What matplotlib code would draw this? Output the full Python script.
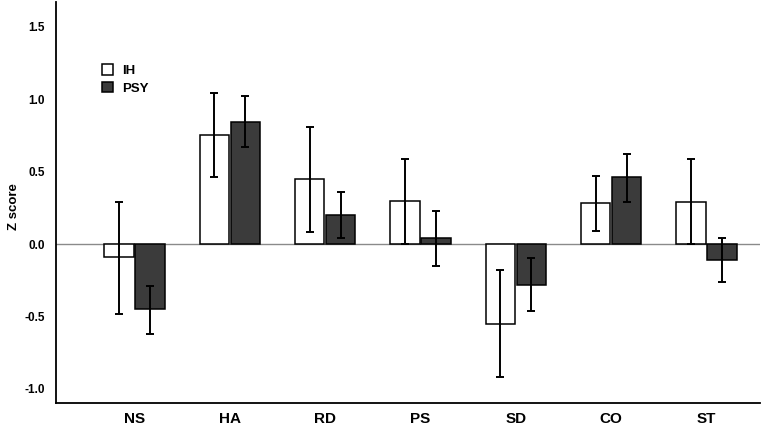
import matplotlib
matplotlib.use("Agg")
import matplotlib.pyplot as plt
import numpy as np

categories = ["NS", "HA", "RD", "PS", "SD", "CO", "ST"]
ih_mean = [-0.09, 0.75, 0.45, 0.30, -0.55, 0.28, 0.29]
ih_upper = [0.29, 1.04, 0.81, 0.59, -0.18, 0.47, 0.59]
ih_lower = [-0.48, 0.46, 0.08, 0.00, -0.92, 0.09, 0.00]
psy_mean = [-0.45, 0.84, 0.20, 0.04, -0.28, 0.46, -0.11]
psy_upper = [-0.29, 1.02, 0.36, 0.23, -0.10, 0.62, 0.04]
psy_lower = [-0.62, 0.67, 0.04, -0.15, -0.46, 0.29, -0.26]
yticks = [-1.0, -0.5, 0.0, 0.5, 1.0, 1.5]

plt.rcParams['font.family'] = ['Liberation Sans', 'DejaVu Sans']

fig = plt.figure(figsize=(7.63, 4.29), dpi=100)
ax = fig.add_axes([0.0734, 0.0599, 0.9226, 0.935])

x = np.arange(len(categories))
w = 0.307
off = 0.163

ax.axhline(0, color="#8a8a8a", lw=1.0, zorder=1)

ih_m = np.array(ih_mean)
ps_m = np.array(psy_mean)
ih_err = [ih_m - np.array(ih_lower), np.array(ih_upper) - ih_m]
ps_err = [ps_m - np.array(psy_lower), np.array(psy_upper) - ps_m]

ax.bar(x - off, ih_m, w, color="white", edgecolor="black", lw=1.1, zorder=2, label="IH")
ax.bar(x + off, ps_m, w, color="#3b3b3b", edgecolor="black", lw=1.1, zorder=2, label="PSY")
ax.errorbar(x - off, ih_m, yerr=ih_err, fmt="none", ecolor="black", elinewidth=1.4,
            capsize=3, capthick=1.4, zorder=3)
ax.errorbar(x + off, ps_m, yerr=ps_err, fmt="none", ecolor="black", elinewidth=1.4,
            capsize=3, capthick=1.4, zorder=3)

ax.set_xlim(-0.824, 6.56)
ax.set_ylim(-1.1, 1.67)
ax.set_yticks(yticks)
ax.set_yticklabels([f"{v:.1f}" for v in yticks], fontsize=8.5, fontweight="bold")
ax.set_xticks(x)
ax.set_xticklabels(categories, fontsize=11, fontweight="bold")
ax.tick_params(axis="y", length=0, pad=8)
ax.tick_params(axis="x", length=0, pad=6)
ax.spines["top"].set_visible(False)
ax.spines["right"].set_visible(False)
ax.spines["left"].set_linewidth(1.3)
ax.spines["bottom"].set_linewidth(1.3)

ax.set_ylabel("Z score", fontsize=9.5, fontweight="bold")
ax.yaxis.set_label_coords(-0.051, 0.49)

leg = ax.legend(loc="upper left", bbox_to_anchor=(0.065, 0.845), frameon=False,
                prop={"weight": "bold", "size": 9.5}, handlelength=0.85, handleheight=0.85,
                handletextpad=0.7, labelspacing=0.35, borderpad=0, borderaxespad=0)

fig.savefig("out.png", dpi=100)
